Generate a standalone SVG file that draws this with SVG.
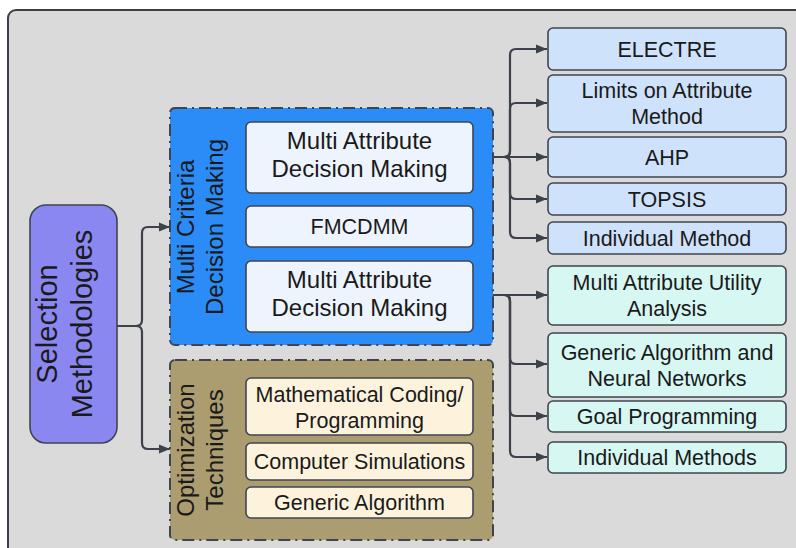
<svg xmlns="http://www.w3.org/2000/svg" width="796" height="548" viewBox="0 0 796 548">
<defs>
<marker id="arr" markerUnits="userSpaceOnUse" markerWidth="12" markerHeight="10" refX="11" refY="5" orient="auto">
<path d="M0,0.5 L11,5 L0,9.5 Z" fill="#3c414a"/>
</marker>
<style>
text{font-family:"Liberation Sans",Arial,sans-serif;fill:#1a1a1a;text-anchor:middle}
.box{stroke:#3f4550;stroke-width:1.6}
.grp{stroke:#3f4550;stroke-width:2;stroke-dasharray:12 5 2 5}
.c{fill:none;stroke:#3c414a;stroke-width:2.2;marker-end:url(#arr)}
.ln{fill:none;stroke:#3c414a;stroke-width:2.2}
.f21{font-size:21.5px}
.f23{font-size:24px}
.f28{font-size:29px}
.mb{fill:#cfe2fb}
.mc{fill:#d6f7f2}
.mi{fill:#eef4fd}
.mo{fill:#fdf3dc}
</style>
</defs>
<rect x="8" y="10" width="800" height="550" rx="8" fill="#dadada" stroke="#3b4048" stroke-width="2"/>

<g id="connectors">
<path class="ln" d="M117,326 H136 Q142,326 142,320 V233 Q142,227 148,227 H170" marker-end="url(#arr)"/>
<path class="ln" d="M117,326 H136 Q142,326 142,332 V443 Q142,449 148,449 H170" marker-end="url(#arr)"/>
<path class="c" d="M473,157 H504 Q510,157 510,151 V55 Q510,49 516,49 H547"/>
<path class="c" d="M473,157 H504 Q510,157 510,151 V109 Q510,103 516,103 H547"/>
<path class="c" d="M473,157 H547"/>
<path class="c" d="M473,157 H504 Q510,157 510,163 V193 Q510,199 516,199 H547"/>
<path class="c" d="M473,157 H504 Q510,157 510,163 V232 Q510,238 516,238 H547"/>
<path class="c" d="M473,295 H547"/>
<path class="c" d="M473,295 H504 Q510,295 510,301 V358 Q510,364 516,364 H547"/>
<path class="c" d="M473,295 H504 Q510,295 510,301 V410 Q510,416 516,416 H547"/>
<path class="c" d="M473,295 H504 Q510,295 510,301 V451 Q510,457 516,457 H547"/>
</g>

<g id="selection">
<rect class="box" x="30" y="205" width="87" height="238" rx="16" fill="#8b87f1" stroke-width="2"/>
<text class="f28" transform="translate(0,324) rotate(-90)"><tspan x="0" y="57">Selection</tspan><tspan x="0" y="92">Methodologies</tspan></text>
</g>

<g id="mcdm">
<rect class="grp" x="170" y="108" width="323" height="237" rx="5" fill="#2b8cf7"/>
<text class="f23" transform="translate(0,227) rotate(-90)"><tspan x="0" y="194">Multi Criteria</tspan><tspan x="0" y="223">Decision Making</tspan></text>
</g>
<g id="optimization">
<rect class="grp" x="170" y="360" width="323" height="180" rx="5" fill="#ab9d70"/>
<text class="f23" transform="translate(0,450) rotate(-90)"><tspan x="0" y="194">Optimization</tspan><tspan x="0" y="223">Techniques</tspan></text>
</g>

<g id="madm1"><rect class="box mi" x="246" y="122" width="227" height="71" rx="5"/>
<text class="f23"><tspan x="359.5" y="149">Multi Attribute</tspan><tspan x="359.5" y="177">Decision Making</tspan></text></g>
<g id="fmcdmm"><rect class="box mi" x="246" y="206" width="227" height="41" rx="5"/>
<text class="f21" x="359.5" y="234">FMCDMM</text></g>
<g id="madm2"><rect class="box mi" x="246" y="261" width="227" height="71" rx="5"/>
<text class="f23"><tspan x="359.5" y="288">Multi Attribute</tspan><tspan x="359.5" y="316">Decision Making</tspan></text></g>

<g id="mathcoding"><rect class="box mo" x="246" y="378" width="227" height="57" rx="5"/>
<text class="f21"><tspan x="359.5" y="402">Mathematical Coding/</tspan><tspan x="359.5" y="428">Programming</tspan></text></g>
<g id="compsim"><rect class="box mo" x="246" y="443" width="227" height="37" rx="5"/>
<text class="f21" x="359.5" y="469">Computer Simulations</text></g>
<g id="genalg"><rect class="box mo" x="246" y="487" width="227" height="31" rx="5"/>
<text class="f21" x="359.5" y="510">Generic Algorithm</text></g>

<g id="electre"><rect class="box mb" x="548" y="28" width="238" height="42" rx="5"/>
<text class="f21" x="667" y="56.5">ELECTRE</text></g>
<g id="limits"><rect class="box mb" x="548" y="75" width="238" height="57" rx="5"/>
<text class="f21"><tspan x="667" y="98">Limits on Attribute</tspan><tspan x="667" y="124">Method</tspan></text></g>
<g id="ahp"><rect class="box mb" x="548" y="137" width="238" height="40" rx="5"/>
<text class="f21" x="667" y="164.5">AHP</text></g>
<g id="topsis"><rect class="box mb" x="548" y="183" width="238" height="32" rx="5"/>
<text class="f21" x="667" y="206.5">TOPSIS</text></g>
<g id="indiv1"><rect class="box mb" x="548" y="222" width="238" height="32" rx="5"/>
<text class="f21" x="667" y="245.5">Individual Method</text></g>

<g id="maua"><rect class="box mc" x="548" y="266" width="238" height="59" rx="5"/>
<text class="f21"><tspan x="667" y="290">Multi Attribute Utility</tspan><tspan x="667" y="316">Analysis</tspan></text></g>
<g id="gann"><rect class="box mc" x="548" y="333" width="238" height="64" rx="5"/>
<text class="f21"><tspan x="667" y="359.5">Generic Algorithm and</tspan><tspan x="667" y="385.5">Neural Networks</tspan></text></g>
<g id="goal"><rect class="box mc" x="548" y="401" width="238" height="31" rx="5"/>
<text class="f21" x="667" y="424">Goal Programming</text></g>
<g id="indiv2"><rect class="box mc" x="548" y="442" width="238" height="31" rx="5"/>
<text class="f21" x="667" y="465">Individual Methods</text></g>
</svg>
